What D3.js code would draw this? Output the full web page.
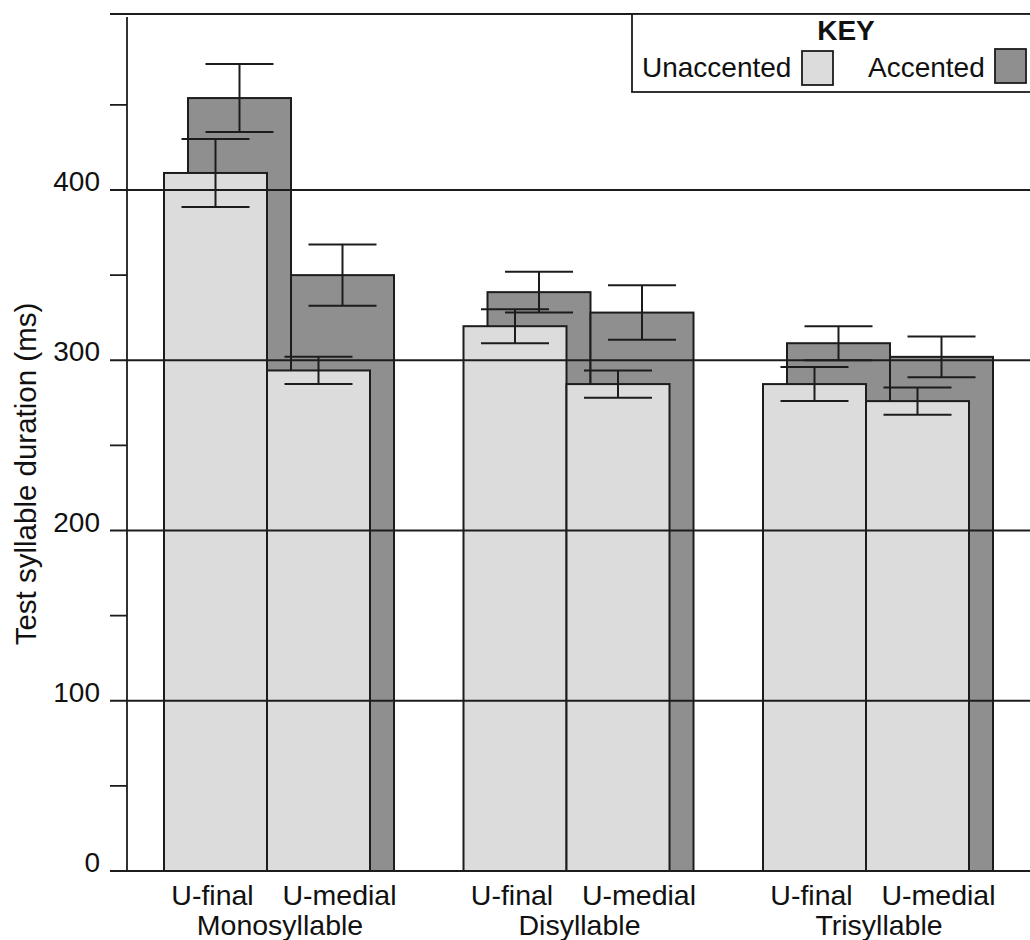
<!DOCTYPE html>
<html>
<head>
<meta charset="utf-8">
<script src="https://cdn.jsdelivr.net/npm/d3@7"></script>
<style>
  html, body { margin: 0; padding: 0; background: #ffffff; }
  svg { display: block; font-family: "Liberation Sans", Arial, Helvetica, sans-serif; }
</style>
</head>
<body>
<svg id="chart" width="1030" height="940"></svg>
<script>
// ---- data ----
const groups = ["Monosyllable", "Disyllable", "Trisyllable"];
const positions = ["U-final", "U-medial"];
const unaccented = [[410, 294], [320, 286], [286, 276]];
const unaccentedErr = [[20, 8], [10, 8], [10, 8]];
const accented = [[454, 350], [340, 328], [310, 302]];
const accentedErr = [[20, 18], [12, 16], [10, 12]];
const majorTicks = [0, 100, 200, 300, 400];
const minorTicks = [50, 150, 250, 350, 450];
const yTitle = "Test syllable duration (ms)";
const legendTitle = "KEY";
const seriesNames = ["Unaccented", "Accented"];

// ---- layout ----
const svg = d3.select("#chart");
const ink = "#1c1c1c";
const lightFill = "#dcdcdc";
const darkFill = "#8f8f8f";
const axisX = 127, tickStart = 110, rightEdge = 1032, frameTop = 14;
const barW = 103, accOffset = 24, capHalf = 34;

const y = d3.scaleLinear().domain([0, 400]).range([871, 190]);
const x0 = d3.scaleBand().domain(groups).range([164, 164 + 3 * 299.5]);
const x1 = d3.scaleBand().domain(positions).range([0, 2 * barW]);

// flatten records
const recs = [];
groups.forEach((g, gi) => positions.forEach((p, pi) => {
  recs.push({g, p, u: unaccented[gi][pi], ue: unaccentedErr[gi][pi],
             a: accented[gi][pi], ae: accentedErr[gi][pi],
             x: x0(g) + x1(p)});
}));

// accented bars (behind)
svg.append("g").selectAll("rect").data(recs).join("rect")
  .attr("x", d => d.x + accOffset).attr("y", d => y(d.a))
  .attr("width", barW).attr("height", d => y(0) - y(d.a))
  .attr("fill", darkFill).attr("stroke", ink).attr("stroke-width", 2);

// unaccented bars (front)
svg.append("g").selectAll("rect").data(recs).join("rect")
  .attr("x", d => d.x).attr("y", d => y(d.u))
  .attr("width", barW).attr("height", d => y(0) - y(d.u))
  .attr("fill", lightFill).attr("stroke", ink).attr("stroke-width", 2);

// gridlines + major ticks
svg.append("g").selectAll("line").data(majorTicks).join("line")
  .attr("x1", tickStart).attr("x2", rightEdge)
  .attr("y1", d => y(d)).attr("y2", d => y(d))
  .attr("stroke", ink).attr("stroke-width", 1.8);
// minor ticks
svg.append("g").selectAll("line").data(minorTicks).join("line")
  .attr("x1", tickStart).attr("x2", axisX)
  .attr("y1", d => y(d)).attr("y2", d => y(d))
  .attr("stroke", ink).attr("stroke-width", 1.8);
// top frame line and axis
svg.append("line").attr("x1", tickStart).attr("x2", rightEdge)
  .attr("y1", frameTop).attr("y2", frameTop).attr("stroke", ink).attr("stroke-width", 1.8);
svg.append("line").attr("x1", axisX).attr("x2", axisX)
  .attr("y1", frameTop + 3).attr("y2", y(0)).attr("stroke", ink).attr("stroke-width", 1.8);

// tick labels
svg.append("g").selectAll("text").data(majorTicks).join("text")
  .attr("x", 100).attr("y", d => y(d) + 1)
  .attr("text-anchor", "end").attr("font-size", 28).attr("fill", "#111")
  .text(d => d);

// error bars
function errorBars(cls, cx, val, err) {
  const g = svg.append("g").attr("class", cls);
  g.selectAll("line.v").data(recs).join("line").attr("class", "v")
    .attr("x1", cx).attr("x2", cx)
    .attr("y1", d => y(val(d) + err(d))).attr("y2", d => y(val(d) - err(d)))
    .attr("stroke", ink).attr("stroke-width", 2);
  g.selectAll("line.t").data(recs).join("line").attr("class", "t")
    .attr("x1", d => cx(d) - capHalf).attr("x2", d => cx(d) + capHalf)
    .attr("y1", d => y(val(d) + err(d))).attr("y2", d => y(val(d) + err(d)))
    .attr("stroke", ink).attr("stroke-width", 2);
  g.selectAll("line.b").data(recs).join("line").attr("class", "b")
    .attr("x1", d => cx(d) - capHalf).attr("x2", d => cx(d) + capHalf)
    .attr("y1", d => y(val(d) - err(d))).attr("y2", d => y(val(d) - err(d)))
    .attr("stroke", ink).attr("stroke-width", 2);
}
errorBars("errA", d => d.x + accOffset + barW / 2, d => d.a, d => d.ae);
errorBars("errU", d => d.x + barW / 2, d => d.u, d => d.ue);

// x labels
const posOffset = {"U-final": -3, "U-medial": 21};
svg.append("g").selectAll("text").data(recs).join("text")
  .attr("x", d => d.x + barW / 2 + posOffset[d.p]).attr("y", 905)
  .attr("text-anchor", "middle").attr("font-size", 28.5).attr("fill", "#111")
  .text(d => d.p);
svg.append("g").selectAll("text").data(groups).join("text")
  .attr("x", g => x0(g) + 116).attr("y", 935)
  .attr("text-anchor", "middle").attr("font-size", 28.5).attr("fill", "#111")
  .text(g => g);

// y title
svg.append("text")
  .attr("transform", "translate(36,474) rotate(-90)")
  .attr("text-anchor", "middle").attr("font-size", 29.5).attr("fill", "#111")
  .text(yTitle);

// legend
const lg = svg.append("g");
lg.append("rect").attr("x", 632).attr("y", frameTop).attr("width", 420).attr("height", 78)
  .attr("fill", "#fff").attr("stroke", ink).attr("stroke-width", 1.8);
lg.append("text").attr("x", 846).attr("y", 40).attr("text-anchor", "middle")
  .attr("font-size", 28).attr("font-weight", "bold").attr("fill", "#111").text(legendTitle);
const legItems = [
  {name: seriesNames[0], tx: 642, sx: 802, sy: 51, fill: lightFill},
  {name: seriesNames[1], tx: 868, sx: 995, sy: 49, fill: darkFill}
];
lg.selectAll("text.item").data(legItems).join("text").attr("class", "item")
  .attr("x", d => d.tx).attr("y", 77).attr("font-size", 28).attr("fill", "#111")
  .text(d => d.name);
lg.selectAll("rect.sw").data(legItems).join("rect").attr("class", "sw")
  .attr("x", d => d.sx).attr("y", d => d.sy).attr("width", 31).attr("height", 34)
  .attr("fill", d => d.fill).attr("stroke", ink).attr("stroke-width", 1.8);
</script>
</body>
</html>
